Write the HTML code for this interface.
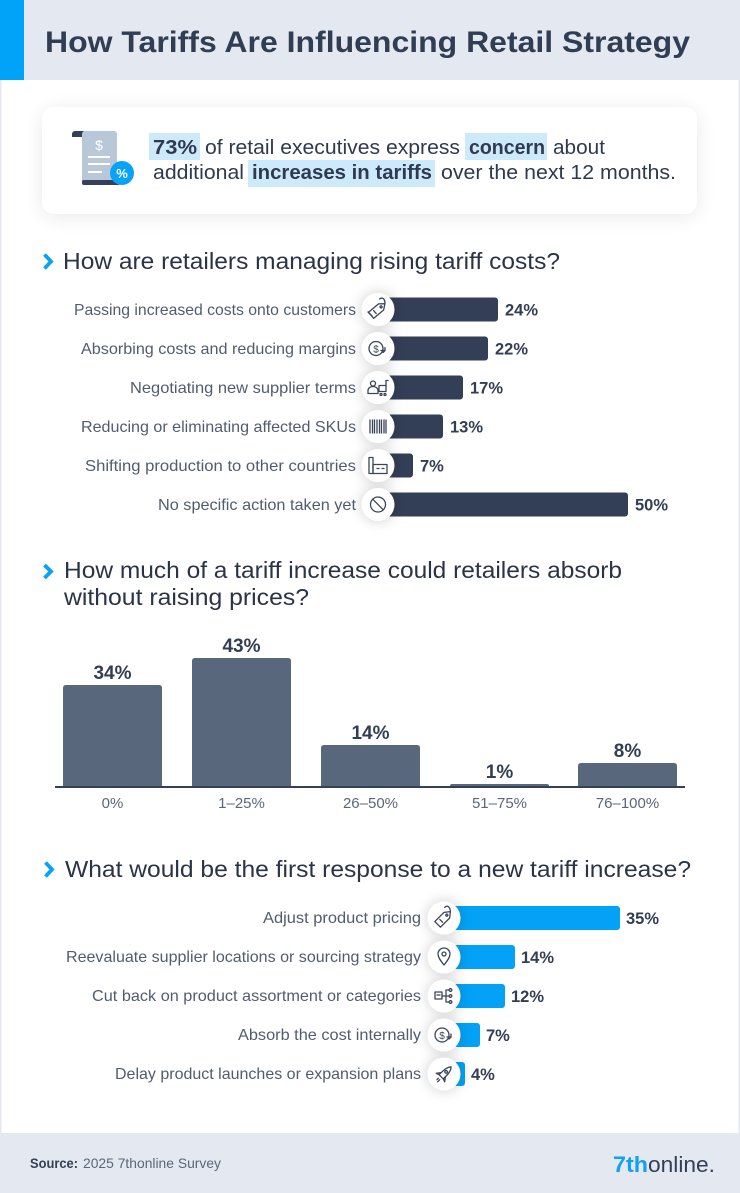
<!DOCTYPE html>
<html><head><meta charset="utf-8"><style>
html,body{margin:0;padding:0;background:#fff;}
svg{display:block;}
</style></head><body>
<svg width="740" height="1193" viewBox="0 0 740 1193" xmlns="http://www.w3.org/2000/svg" font-family="'Liberation Sans', sans-serif">
<defs>
<filter id="csh" x="-80%" y="-80%" width="260%" height="260%">
<feGaussianBlur in="SourceAlpha" stdDeviation="7"/>
<feComponentTransfer><feFuncA type="linear" slope="0.2"/></feComponentTransfer>
<feMerge><feMergeNode/><feMergeNode in="SourceGraphic"/></feMerge>
</filter>
<filter id="card" x="-20%" y="-40%" width="140%" height="180%">
<feGaussianBlur in="SourceAlpha" stdDeviation="10"/>
<feOffset dy="3"/>
<feComponentTransfer><feFuncA type="linear" slope="0.09"/></feComponentTransfer>
<feMerge><feMergeNode/><feMergeNode in="SourceGraphic"/></feMerge>
</filter>
</defs>

<rect x="0" y="0" width="740" height="1193" fill="#ffffff"/>
<!-- header -->
<rect x="0" y="0" width="740" height="80" fill="#e4e9f1"/>
<rect x="0" y="0" width="24" height="80" fill="#00a3f8"/>
<text x="45" y="52" font-size="30" font-weight="bold" fill="#313d53" textLength="645" lengthAdjust="spacingAndGlyphs">How Tariffs Are Influencing Retail Strategy</text>
<!-- side borders -->
<rect x="0" y="80" width="1.5" height="1053" fill="#e4e9f1"/>
<rect x="738.5" y="80" width="1.5" height="1053" fill="#e4e9f1"/>

<!-- card -->
<rect x="42" y="107" width="655" height="107" rx="12" fill="#ffffff" filter="url(#card)"/>
<!-- receipt icon -->
<path d="M72 137 L72 134 A3 3 0 0 1 75 131 L84 131 L84 137 Z" fill="#34405a"/>
<rect x="82" y="131" width="35" height="53" rx="3" fill="#b8c8d8"/>
<rect x="82" y="180" width="38" height="5" rx="2" fill="#34405a"/>
<text x="99" y="150" font-size="14" fill="#ffffff" text-anchor="middle">$</text>
<rect x="88" y="156" width="22" height="2" fill="#ffffff"/>
<rect x="88" y="163" width="22" height="2" fill="#ffffff"/>
<rect x="88" y="171" width="14" height="2" fill="#ffffff"/>
<circle cx="122" cy="173" r="12" fill="#08a3f6"/>
<text x="122" y="178" font-size="13" font-weight="bold" fill="#ffffff" text-anchor="middle">%</text>
<!-- highlights -->
<rect x="149" y="133" width="51" height="27" fill="#cdeafd"/>
<rect x="465" y="133" width="82" height="27" fill="#cdeafd"/>
<rect x="248" y="160" width="187" height="27" fill="#cdeafd"/>
<g font-size="20.5" fill="#2f3a4e">
<text x="153" y="154" font-weight="bold" textLength="44" lengthAdjust="spacingAndGlyphs">73%</text>
<text x="205" y="154" textLength="255" lengthAdjust="spacingAndGlyphs">of retail executives express</text>
<text x="469" y="154" font-weight="bold" textLength="76" lengthAdjust="spacingAndGlyphs">concern</text>
<text x="553" y="154" textLength="52" lengthAdjust="spacingAndGlyphs">about</text>
<text x="153" y="179" textLength="91" lengthAdjust="spacingAndGlyphs">additional</text>
<text x="252" y="179" font-weight="bold" textLength="180" lengthAdjust="spacingAndGlyphs">increases in tariffs</text>
<text x="441" y="179" textLength="235" lengthAdjust="spacingAndGlyphs">over the next 12 months.</text>
</g>

<!-- Section 1 -->
<polyline points="44.5,254.5 51,261.5 44.5,268.5" fill="none" stroke="#08a3f6" stroke-width="3.8"/>
<text x="63" y="269" font-size="23" fill="#2b3346" textLength="497" lengthAdjust="spacingAndGlyphs">How are retailers managing rising tariff costs?</text>

<g fill="#333f56">
<rect x="380" y="297.5" width="118" height="24" rx="3"/>
<rect x="380" y="336.5" width="108" height="24" rx="3"/>
<rect x="380" y="375.5" width="83" height="24" rx="3"/>
<rect x="380" y="414.5" width="63" height="24" rx="3"/>
<rect x="380" y="453.5" width="33" height="24" rx="3"/>
<rect x="380" y="492.5" width="248" height="24" rx="3"/>
</g>
<g font-size="16" fill="#515c6e" text-anchor="end">
<text x="356" y="315" textLength="282" lengthAdjust="spacingAndGlyphs">Passing increased costs onto customers</text>
<text x="356" y="354" textLength="275" lengthAdjust="spacingAndGlyphs">Absorbing costs and reducing margins</text>
<text x="356" y="393" textLength="226" lengthAdjust="spacingAndGlyphs">Negotiating new supplier terms</text>
<text x="356" y="432" textLength="275" lengthAdjust="spacingAndGlyphs">Reducing or eliminating affected SKUs</text>
<text x="356" y="471" textLength="271" lengthAdjust="spacingAndGlyphs">Shifting production to other countries</text>
<text x="356" y="510" textLength="198" lengthAdjust="spacingAndGlyphs">No specific action taken yet</text>
</g>
<g font-size="16.5" font-weight="bold" fill="#333e52">
<text x="505" y="315.5">24%</text>
<text x="495" y="354.5">22%</text>
<text x="470" y="393.5">17%</text>
<text x="450" y="432.5">13%</text>
<text x="420" y="471.5">7%</text>
<text x="635" y="510.5">50%</text>
</g>
<!-- section 1 icon circles -->
<g fill="#ffffff" filter="url(#csh)">
<circle cx="378" cy="309.5" r="16.5"/>
<circle cx="378" cy="348.5" r="16.5"/>
<circle cx="378" cy="387.5" r="16.5"/>
<circle cx="378" cy="426.5" r="16.5"/>
<circle cx="378" cy="465.5" r="16.5"/>
<circle cx="378" cy="504.5" r="16.5"/>
</g>
<g fill="none" stroke="#3b4659" stroke-width="1.3" stroke-linejoin="round" stroke-linecap="round">
<g transform="translate(378,309.5) rotate(-40)">
<path d="M-9 -4 L4 -4 L9 0 L4 4 L-9 4 Z"/>
<circle cx="4" cy="0" r="1"/>
<path d="M-4 -2 L-4 2"/>
<path d="M9 0 C12 -3 12 -7 8 -7"/>
</g>
<path d="M368 312 L372 316"/>
<g transform="translate(378,348.5)">
<circle cx="-2" cy="0" r="7"/>
<path d="M3 2 L7 2 L7 -1"/>
<path d="M5 4 L7 2"/>
</g>
<g transform="translate(378,387.5)">
<circle cx="-5" cy="-4" r="2.5"/>
<path d="M-10 6 L-10 3 A5 4 0 0 1 0 3 L0 6 Z"/>
<path d="M1 -2 L8 -2 L8 4 L1 4 Z"/>
<path d="M8 -2 L8 -7 L10 -7"/>
<circle cx="3" cy="7" r="1"/><circle cx="7" cy="7" r="1"/>
</g>
<g transform="translate(378,426.5)" stroke-linecap="butt">
<path d="M-8 -7 V7 M-5.5 -7 V7 M-3.5 -7 V7 M-1 -7 V7 M1.5 -7 V7 M3.5 -7 V7 M6 -7 V7 M8 -7 V7"/>
</g>
<g transform="translate(378,465.5)">
<path d="M-9 8 L-9 -8 L-5 -8 L-5 8 Z"/>
<path d="M-5 8 L-5 -1 L9 -1 L9 8 Z"/>
<path d="M-1 3 h2 M4 3 h2"/>
</g>
<g transform="translate(378,504.5)">
<circle cx="0" cy="0" r="7.5"/>
<path d="M-5.3 -5.3 L5.3 5.3"/>
</g>
</g>
<text x="376" y="352.5" font-size="10" fill="#3b4659" text-anchor="middle">$</text>

<!-- Section 2 -->
<polyline points="44.5,565 51,571.5 44.5,578" fill="none" stroke="#08a3f6" stroke-width="3.8"/>
<text x="64" y="578" font-size="23" fill="#2b3346" textLength="558" lengthAdjust="spacingAndGlyphs">How much of a tariff increase could retailers absorb</text>
<text x="64" y="605" font-size="23" fill="#2b3346" textLength="245" lengthAdjust="spacingAndGlyphs">without raising prices?</text>

<g fill="#58677b">
<path d="M63 787 L63 688 Q63 685 66 685 L159 685 Q162 685 162 688 L162 787 Z"/>
<path d="M192 787 L192 661 Q192 658 195 658 L288 658 Q291 658 291 661 L291 787 Z"/>
<path d="M321 787 L321 748 Q321 745 324 745 L417 745 Q420 745 420 748 L420 787 Z"/>
<path d="M450 787 L450 786 Q450 784 452 784 L547 784 Q549 784 549 786 L549 787 Z"/>
<path d="M578 787 L578 766 Q578 763 581 763 L674 763 Q677 763 677 766 L677 787 Z"/>
</g>
<rect x="55" y="786" width="630" height="2" fill="#344055"/>
<g font-size="19" font-weight="bold" fill="#323e53" text-anchor="middle">
<text x="112.5" y="679">34%</text>
<text x="241.5" y="652">43%</text>
<text x="370.5" y="739">14%</text>
<text x="499.5" y="778">1%</text>
<text x="627.5" y="757">8%</text>
</g>
<g font-size="15" fill="#5b6679" text-anchor="middle">
<text x="112.5" y="808">0%</text>
<text x="241.5" y="808">1–25%</text>
<text x="370.5" y="808">26–50%</text>
<text x="499.5" y="808">51–75%</text>
<text x="627.5" y="808">76–100%</text>
</g>

<!-- Section 3 -->
<polyline points="45.5,862.5 52,869.5 45.5,876.5" fill="none" stroke="#08a3f6" stroke-width="3.8"/>
<text x="65" y="877" font-size="23" fill="#2b3346" textLength="626" lengthAdjust="spacingAndGlyphs">What would be the first response to a new tariff increase?</text>

<g fill="#03a2f6">
<rect x="446" y="906" width="174" height="24" rx="3"/>
<rect x="446" y="945" width="69" height="24" rx="3"/>
<rect x="446" y="984" width="59" height="24" rx="3"/>
<rect x="446" y="1023" width="34" height="24" rx="3"/>
<rect x="446" y="1062" width="19" height="24" rx="3"/>
</g>
<g font-size="16" fill="#515c6e" text-anchor="end">
<text x="421" y="923" textLength="158" lengthAdjust="spacingAndGlyphs">Adjust product pricing</text>
<text x="421" y="962" textLength="355" lengthAdjust="spacingAndGlyphs">Reevaluate supplier locations or sourcing strategy</text>
<text x="421" y="1001" textLength="329" lengthAdjust="spacingAndGlyphs">Cut back on product assortment or categories</text>
<text x="421" y="1040" textLength="183" lengthAdjust="spacingAndGlyphs">Absorb the cost internally</text>
<text x="421" y="1079" textLength="306" lengthAdjust="spacingAndGlyphs">Delay product launches or expansion plans</text>
</g>
<g font-size="16.5" font-weight="bold" fill="#333e52">
<text x="626" y="924">35%</text>
<text x="521" y="963">14%</text>
<text x="511" y="1002">12%</text>
<text x="486" y="1041">7%</text>
<text x="471" y="1080">4%</text>
</g>
<g fill="#ffffff" filter="url(#csh)">
<circle cx="444" cy="918" r="16.5"/>
<circle cx="444" cy="957" r="16.5"/>
<circle cx="444" cy="996" r="16.5"/>
<circle cx="444" cy="1035" r="16.5"/>
<circle cx="444" cy="1074" r="16.5"/>
</g>
<g fill="none" stroke="#3b4659" stroke-width="1.3" stroke-linejoin="round" stroke-linecap="round">
<g transform="translate(444,918) rotate(-45)">
<path d="M-9 -4 L4 -4 L9 0 L4 4 L-9 4 Z"/>
<circle cx="4" cy="0" r="1"/>
<path d="M-4 -2 L-4 2"/>
<path d="M9 0 C12 -3 12 -7 8 -7"/>
</g>
<g transform="translate(444,957)">
<path d="M0 8 C-4 3 -6 0 -6 -3 A6 6 0 0 1 6 -3 C6 0 4 3 0 8 Z"/>
<circle cx="0" cy="-3" r="2"/>
</g>
<g transform="translate(444,996)">
<path d="M-9 -4 L-2 -4 L-2 3 L-9 3 Z"/>
<path d="M-7 -1 h3"/>
<path d="M-2 0 L2 0 M2 -6 L2 6 M2 -6 L5 -6 M2 0 L5 0 M2 6 L5 6"/>
<circle cx="6.5" cy="-6" r="1.3"/><circle cx="6.5" cy="0" r="1.3"/><circle cx="6.5" cy="6" r="1.3"/>
</g>
<g transform="translate(444,1035)">
<circle cx="-2" cy="0" r="7"/>
<path d="M3 2 L7 2 L7 -1"/>
<path d="M5 4 L7 2"/>
</g>
<g transform="translate(444,1074) rotate(45)">
<path d="M0 -10 C3 -7 3 -2 3 4 L-3 4 C-3 -2 -3 -7 0 -10 Z"/>
<circle cx="0" cy="-3" r="1.3"/>
<path d="M-3 1 L-6 5 L-3 4 M3 1 L6 5 L3 4"/>
<path d="M-1 7 L-1 9 M1 7 L1 10"/>
</g>
</g>
<text x="442" y="1039" font-size="10" fill="#3b4659" text-anchor="middle">$</text>

<!-- footer -->
<rect x="0" y="1133" width="740" height="60" fill="#e4e9f1"/>
<text x="30" y="1168" font-size="14" font-weight="bold" fill="#333f55" textLength="48" lengthAdjust="spacingAndGlyphs">Source:</text>
<text x="83" y="1168" font-size="14" fill="#5b6679" textLength="138" lengthAdjust="spacingAndGlyphs">2025 7thonline Survey</text>
<text x="613" y="1172" font-size="22" font-weight="bold" fill="#12a0f0" textLength="35" lengthAdjust="spacingAndGlyphs">7th</text>
<text x="648" y="1172" font-size="22" fill="#333f55" textLength="67" lengthAdjust="spacingAndGlyphs">online.</text>
</svg>
</body></html>
